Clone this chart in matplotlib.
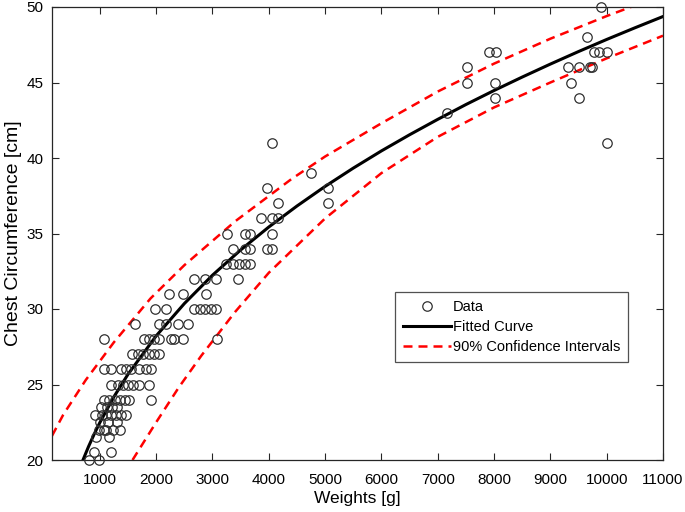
import matplotlib.pyplot as plt
import numpy as np

# scatter data, grouped by chest circumference (cm) -> weights (g)
data_rows = {
    20: [800, 980],
    20.5: [900, 1200],
    21.5: [940, 1170],
    22: [990, 1080, 1110, 1230, 1350],
    22.5: [1000, 1150, 1300],
    23: [910, 1030, 1110, 1200, 1280, 1370, 1460],
    23.5: [1020, 1130, 1220, 1310],
    24: [1080, 1170, 1260, 1350, 1440, 1520, 1910],
    25: [1200, 1320, 1410, 1500, 1580, 1700, 1880],
    26: [1080, 1200, 1380, 1460, 1550, 1700, 1820, 1900],
    27: [1570, 1670, 1760, 1880, 1970, 2050],
    28: [1080, 1790, 1880, 1970, 2050, 2260, 2320, 2470, 3080],
    29: [1630, 2050, 2180, 2380, 2570],
    30: [1980, 2180, 2670, 2770, 2870, 2970, 3060],
    31: [2220, 2470, 2880],
    32: [2670, 2870, 3060, 3460],
    33: [3240, 3360, 3470, 3570, 3670],
    34: [3370, 3570, 3670, 3960, 4060],
    35: [3260, 3570, 3670, 4060],
    36: [3860, 4060, 4160],
    37: [4160, 5050],
    38: [3960, 5050],
    39: [4750],
    41: [4060, 10000],
    43: [7170],
    44: [8020, 9500],
    45: [7520, 8020, 9360],
    46: [7520, 9310, 9500, 9710, 9740],
    47: [7910, 8030, 9770, 9870, 10000],
    48: [9650],
    50: [9900],
}

# fitted curve
fit_x = [700, 800, 900, 1000, 1250, 1500, 2000, 2500, 3000, 3500, 4000, 4500,
         5000, 5500, 6000, 6500, 7000, 7500, 8000, 8500, 9000, 9500, 10000,
         10500, 11000]
fit_y = [20.0, 20.9, 21.72, 22.48, 24.19, 25.68, 28.22, 30.36, 32.24, 33.91,
         35.43, 36.82, 38.12, 39.33, 40.47, 41.54, 42.56, 43.54, 44.47, 45.36,
         46.22, 47.05, 47.85, 48.62, 49.37]

# 90% confidence bounds
upper_x = [150, 350, 750, 1250, 1900, 2500, 3400, 4400, 5000, 6000, 7000,
           8000, 9000, 10000, 11000]
upper_y = [21.6, 23.0, 25.3, 27.8, 30.7, 32.9, 35.8, 38.6, 40.1, 42.3, 44.4,
           46.25, 47.9, 49.4, 50.8]
lower_x = [1580, 2000, 2400, 2800, 3400, 4000, 5000, 6000, 7000, 8000,
           9000, 10000, 11000]
lower_y = [20.0, 22.5, 24.8, 26.9, 29.8, 32.4, 36.0, 39.0, 41.4, 43.35,
           45.0, 46.6, 48.1]

xticks = list(range(1000, 11001, 1000))
yticks = list(range(20, 51, 5))

plt.rcParams['font.family'] = ['Liberation Sans', 'DejaVu Sans']

weights = [w for c, ws in data_rows.items() for w in ws]
chest = [c for c, ws in data_rows.items() for w in ws]

fig = plt.figure(figsize=(6.85, 5.12), dpi=100)
ax = fig.add_axes([52 / 685, 1 - 460 / 512, 611 / 685, 453 / 512])

ax.plot(weights, chest, 'o', ms=6.8, mfc='none', mec='#303030', mew=0.9,
        label='Data', clip_on=False, zorder=3)
ax.plot(fit_x, fit_y, '-', color='black', lw=2.2, label='Fitted Curve')
ax.plot(upper_x, upper_y, '--', color='red', lw=1.8, dashes=(3.6, 2.4),
        label='90% Confidence Intervals')
ax.plot(lower_x, lower_y, '--', color='red', lw=1.8, dashes=(3.6, 2.4))

ax.set_xlim(150, 11000)
ax.set_ylim(20, 50)
ax.set_xticks(xticks)
ax.set_yticks(yticks)
ax.tick_params(direction='in', length=5, width=0.8, colors='#262626',
               labelsize=11, top=True, right=True, pad=6)
ax.tick_params(axis='x', labelcolor='black', pad=9)
ax.tick_params(axis='y', labelcolor='black')
for sp in ax.spines.values():
    sp.set_color('#262626')
    sp.set_linewidth(0.9)

ax.set_xlabel('Weights [g]', fontsize=12.5, labelpad=3)
ax.set_ylabel('Chest Circumference [cm]', fontsize=14, labelpad=3)

leg = ax.legend(loc='upper left', bbox_to_anchor=(395 / 685, 1 - 292 / 512),
                bbox_transform=fig.transFigure, fontsize=10.5, frameon=True,
                fancybox=False, edgecolor='#262626', handlelength=3.3,
                handletextpad=0.1, labelspacing=0.4, borderpad=0.55,
                borderaxespad=0)
leg.get_frame().set_linewidth(0.9)

fig.savefig('out.png', dpi=100)
